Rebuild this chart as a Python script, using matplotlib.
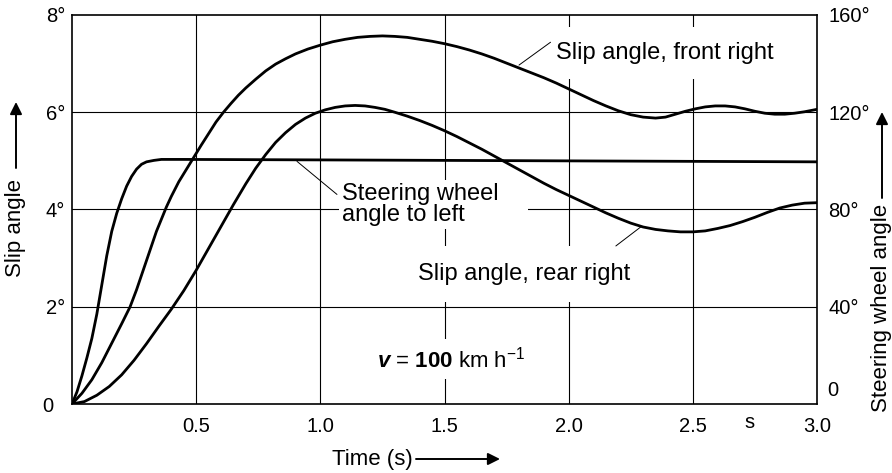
import matplotlib
matplotlib.use('Agg')
import matplotlib.pyplot as plt

plt.rcParams['font.family'] = ['Liberation Sans', 'DejaVu Sans']
plt.rcParams['mathtext.fontset'] = 'custom'
plt.rcParams['mathtext.rm'] = 'Liberation Sans'
plt.rcParams['mathtext.it'] = 'Liberation Sans:italic'
plt.rcParams['mathtext.bf'] = 'Liberation Sans:bold'
plt.rcParams['mathtext.bfit'] = 'Liberation Sans:bold:italic'

# steering wheel angle, plotted in slip-angle units (1 deg slip = 20 deg wheel)
t_steer = [0, 0.02, 0.04, 0.06, 0.08, 0.10, 0.12, 0.14, 0.16, 0.18,
           0.20, 0.22, 0.24, 0.26, 0.28, 0.30, 0.33, 0.36, 0.45, 1.0,
           2.0, 3.0]
steer = [0, 0.25, 0.58, 0.95, 1.35, 1.85, 2.45, 3.05, 3.55, 3.92,
         4.22, 4.48, 4.68, 4.83, 4.93, 4.98, 5.01, 5.03, 5.03, 5.02,
         5.00, 4.98]

# slip angle, front right wheel
t_front = [0, 0.04, 0.08, 0.12, 0.16, 0.20, 0.234, 0.26, 0.28, 0.30,
           0.32, 0.34, 0.36, 0.38, 0.40, 0.43, 0.46, 0.49, 0.52, 0.55,
           0.58, 0.61, 0.64, 0.67, 0.70, 0.74, 0.78, 0.82, 0.86, 0.90,
           0.95, 1.00, 1.05, 1.10, 1.15, 1.20, 1.25, 1.30, 1.35, 1.40,
           1.45, 1.50, 1.55, 1.60, 1.65, 1.70, 1.75, 1.80, 1.85, 1.90,
           1.95, 2.00, 2.05, 2.10, 2.15, 2.20, 2.25, 2.30, 2.35, 2.39,
           2.43, 2.47, 2.51, 2.55, 2.59, 2.63, 2.67, 2.71, 2.75, 2.79,
           2.83, 2.87, 2.91, 2.95, 3.0]
front = [0, 0.22, 0.5, 0.85, 1.25, 1.65, 2.0, 2.35, 2.65, 2.95,
         3.25, 3.55, 3.8, 4.05, 4.27, 4.57, 4.82, 5.07, 5.32, 5.56,
         5.8, 6.0, 6.18, 6.35, 6.5, 6.68, 6.85, 6.99, 7.1, 7.2,
         7.3, 7.38, 7.45, 7.5, 7.54, 7.56, 7.57, 7.56, 7.54, 7.5,
         7.46, 7.41, 7.35, 7.28, 7.2, 7.11, 7.01, 6.91, 6.81, 6.71,
         6.6, 6.48, 6.36, 6.24, 6.13, 6.03, 5.95, 5.9, 5.88, 5.9,
         5.96, 6.02, 6.07, 6.11, 6.13, 6.13, 6.11, 6.07, 6.02, 5.98,
         5.96, 5.96, 5.98, 6.01, 6.06]

# slip angle, rear right wheel
t_rear = [0, 0.05, 0.10, 0.15, 0.20, 0.25, 0.30, 0.35, 0.40, 0.45,
          0.50, 0.55, 0.60, 0.65, 0.70, 0.74, 0.78, 0.82, 0.86, 0.90,
          0.94, 0.98, 1.02, 1.06, 1.10, 1.14, 1.18, 1.22, 1.26, 1.30,
          1.35, 1.40, 1.45, 1.50, 1.55, 1.60, 1.65, 1.70, 1.75, 1.80,
          1.85, 1.90, 1.95, 2.00, 2.05, 2.10, 2.15, 2.20, 2.25, 2.30,
          2.35, 2.40, 2.45, 2.50, 2.55, 2.60, 2.65, 2.70, 2.75, 2.80,
          2.85, 2.90, 2.95, 3.0]
rear = [0, 0.05, 0.18, 0.36, 0.6, 0.9, 1.24, 1.6, 1.95, 2.33,
        2.75, 3.2, 3.65, 4.1, 4.53, 4.85, 5.13, 5.38, 5.58, 5.75,
        5.88, 5.98, 6.05, 6.1, 6.13, 6.14, 6.13, 6.1, 6.06, 6.0,
        5.92, 5.83, 5.73, 5.62, 5.5, 5.37, 5.24, 5.1, 4.96, 4.82,
        4.68, 4.54, 4.41, 4.29, 4.17, 4.05, 3.93, 3.82, 3.72, 3.64,
        3.59, 3.56, 3.54, 3.54, 3.56, 3.61, 3.67, 3.75, 3.84, 3.94,
        4.03, 4.09, 4.13, 4.14]

x_ticks = [0.5, 1.0, 1.5, 2.0, 2.5, 3.0]
x_labels = ['0.5', '1.0', '1.5', '2.0', '2.5', '3.0']
y_ticks = [0, 2, 4, 6, 8]
y_labels = ['0  ', '2°', '4°', '6°', '8°']
y2_ticks = [40, 80, 120, 160]
y2_labels = ['40°', '80°', '120°', '160°']

fig = plt.figure(figsize=(8.92, 4.73), dpi=100)
ax = fig.add_axes([72 / 892, 69 / 473, 745 / 892, 389 / 473])
ax.set_xlim(0, 3.0)
ax.set_ylim(0, 8)

for x in x_ticks[:-1]:
    ax.axvline(x, color='black', lw=0.8, zorder=1)
for y in y_ticks[1:-1]:
    ax.axhline(y, color='black', lw=0.8, zorder=1)

for s in ax.spines.values():
    s.set_linewidth(1.2)
    s.set_zorder(4)

line_kw = dict(color='black', lw=2.0, zorder=3,
               solid_capstyle='round', solid_joinstyle='round')
ax.plot(t_steer, steer, **line_kw)
ax.plot(t_front, front, **line_kw)
ax.plot(t_rear, rear, **line_kw)

ax.set_xticks(x_ticks)
ax.set_xticklabels(x_labels)
ax.set_yticks(y_ticks)
ax.set_yticklabels(y_labels)
ax.tick_params(length=0, labelsize=14.5)
ax.tick_params(axis='x', pad=9)
ax.tick_params(axis='y', pad=5)
ax.annotate('s', xy=(2.73, 0), xycoords=('data', 'axes fraction'),
            xytext=(0, -24), textcoords='offset pixels',
            ha='center', va='baseline', fontsize=14.5)

ax2 = ax.twinx()
ax2.set_ylim(0, 160)
ax2.set_yticks(y2_ticks)
ax2.set_yticklabels(y2_labels)
ax2.tick_params(length=0, labelsize=14.5, pad=8)
for s in ax2.spines.values():
    s.set_visible(False)
ax2.annotate('0', xy=(1, 0), xycoords=('axes fraction', 'data'),
             xytext=(10, 14), textcoords='offset pixels',
             ha='left', va='center', fontsize=14.5)

# curve labels with leader lines
box = dict(facecolor='white', edgecolor='none')
leader = dict(arrowstyle='-', lw=0.7, shrinkA=0, shrinkB=0)

ax.text(1.948, 7.22, 'Slip angle, front right', fontsize=17,
        ha='left', va='center', zorder=2, bbox=dict(box, pad=11))
ax.annotate('', xy=(1.80, 6.97), xytext=(1.927, 7.44),
            arrowprops=leader, zorder=3)

ax.text(1.087, 4.10, 'Steering wheel    \nangle to left', fontsize=17,
        ha='left', va='center', linespacing=0.95, zorder=2,
        bbox=dict(box, pad=2))
ax.annotate('', xy=(0.906, 4.99), xytext=(1.067, 4.31),
            arrowprops=leader, zorder=3)

ax.text(1.395, 2.67, 'Slip angle, rear right', fontsize=17,
        ha='left', va='center', zorder=2, bbox=dict(box, pad=12))
ax.annotate('', xy=(2.29, 3.64), xytext=(2.19, 3.25),
            arrowprops=leader, zorder=3)

ax.text(1.229, 0.92, r'$\mathbfit{v}$ = $\mathbf{100}$ km h$^{-1}$', fontsize=16,
        ha='left', va='center', zorder=2, bbox=dict(box, pad=5))

# axis titles with arrows
arrow = dict(arrowstyle='-|>', lw=1.4, color='black', mutation_scale=18,
             shrinkA=0, shrinkB=0)
fig.text(16 / 892, 245 / 473, 'Slip angle', rotation=90, fontsize=16,
         ha='center', va='center')
ax.annotate('', xy=(16, 371), xycoords='figure pixels',
            xytext=(16, 305), textcoords='figure pixels', arrowprops=arrow)

fig.text(882 / 892, 165 / 473, 'Steering wheel angle', rotation=90, fontsize=16,
         ha='center', va='center')
ax.annotate('', xy=(882, 361), xycoords='figure pixels',
            xytext=(882, 275), textcoords='figure pixels', arrowprops=arrow)

fig.text(372 / 892, 14 / 473, 'Time (s)', fontsize=16, ha='center', va='center')
ax.annotate('', xy=(500, 14), xycoords='figure pixels',
            xytext=(416, 14), textcoords='figure pixels', arrowprops=arrow)

fig.savefig('out.png', dpi=100)
